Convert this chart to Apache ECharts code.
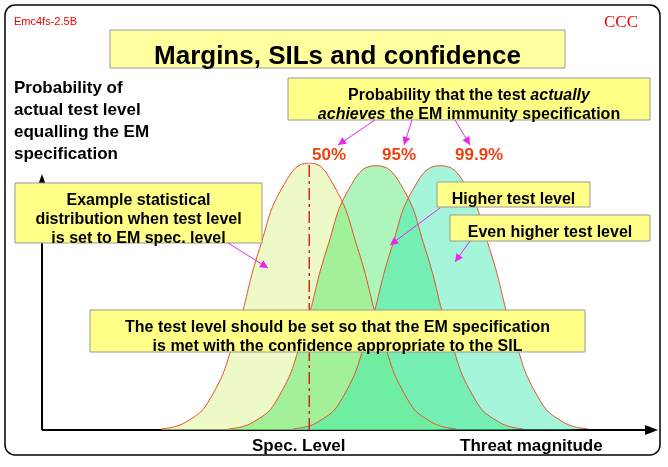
<html><head><script src="https://cdn.jsdelivr.net/npm/echarts@6/dist/echarts.min.js"></script></head>
<body style="margin:0;background:#fff"><div id="c" style="width:668px;height:467px"></div><script>
const xA=[19.5,23.5,27.5,31.5,35.5,39.5,43.6,47.5,51.5,55.5,59.5,63.5,67.5];
const yA=[0.5,3,12,35,68,92,100,92,68,35,12,3,0.5];
const xB=[30.5,34.5,38.5,42.5,46.5,50.5,54.5,58.5,62.5,66.5,70.5,74.5,78.5];
const yB=[0.5,3,12,35,68,92,99,92,68,35,12,3,0.5];
const xC=[41,45,49,53,57,61,65,69,73,77,81,85,89];
const yC=[0.5,3,12,35,68,92,99,92,68,35,12,3,0.5];
const pct=['50%','95%','99.9%'];
const pair=(xs,ys)=>xs.map((x,i)=>[x,ys[i]]);
const ch=echarts.init(document.getElementById('c'));
const F='Liberation Sans, Arial, sans-serif';
function box(x,y,w,h,lines,fs,fill){
 const ch2=[{type:'rect',z:20,shape:{x:x,y:y,width:w,height:h},style:{fill:fill||'#ffff88',stroke:'#999',lineWidth:1}}];
 lines.forEach((t,i)=>ch2.push({type:'text',z:21,style:{x:x+w/2,y:y+4+i*(fs+3),text:t,fill:'#000',font:'bold '+fs+'px '+F,align:'center',verticalAlign:'top',rich:{i:{fontStyle:'italic',fontWeight:'bold',fontSize:fs,fontFamily:F}}}}));
 return ch2;}
function arrow(x1,y1,x2,y2){const a=Math.atan2(y2-y1,x2-x1),L=8,W=4;
 return [{type:'line',z:22,shape:{x1,y1,x2,y2},style:{stroke:'#ee22ee',lineWidth:1}},
 {type:'polygon',z:22,shape:{points:[[x2,y2],[x2-L*Math.cos(a)+W*Math.sin(a),y2-L*Math.sin(a)-W*Math.cos(a)],[x2-L*Math.cos(a)-W*Math.sin(a),y2-L*Math.sin(a)+W*Math.cos(a)]]},style:{fill:'#ee22ee'}}];}
let g=[
 {type:'rect',shape:{x:5,y:5,width:655,height:450,r:10},style:{fill:'none',stroke:'#000',lineWidth:1.5}},
 {type:'text',style:{x:14,y:12,text:'Emc4fs-2.5B',fill:'#e00',font:'11px '+F}},
 {type:'text',style:{x:604,y:10,text:'CCC',fill:'#e00',font:'17px Liberation Serif, serif'}},
 {type:'text',style:{x:14,y:77,text:'Probability of\nactual test level\nequalling the EM\nspecification',fill:'#000',font:'bold 17px '+F,lineHeight:22}},
 {type:'line',shape:{x1:42,y1:430,x2:42,y2:182},style:{stroke:'#000',lineWidth:2}},
 {type:'polygon',shape:{points:[[42,174],[37,188],[47,188]]},style:{fill:'#000'}},
 {type:'line',shape:{x1:42,y1:430,x2:650,y2:430},style:{stroke:'#000',lineWidth:2}},
 {type:'polygon',shape:{points:[[658,430],[645,425],[645,435]]},style:{fill:'#000'}},
 {type:'text',style:{x:252,y:432,text:'Spec. Level',fill:'#000',font:'bold 17px '+F}},
 {type:'text',style:{x:460,y:432,text:'Threat magnitude',fill:'#000',font:'bold 17px '+F}},
];
g=g.concat(box(110,30,455,38,['Margins, SILs and confidence'],26,'#ffffa0'));
g=g.concat(box(288,78,362,42,['Probability that the test {i|actually}','{i|achieves} the EM immunity specification'],16));
g=g.concat(box(15,183,247,60,['Example statistical','distribution when test level','is set to EM spec. level'],16));
g=g.concat(box(437,182,153,25,['Higher test level'],16));
g=g.concat(box(450,215,200,26,['Even higher test level'],16));
g=g.concat(box(90,310,495,42,['The test level should be set so that the EM specification','is met with the confidence appropriate to the SIL'],16));
[[312,155,pct[0]],[382,155,pct[1]],[455,155,pct[2]]].forEach(p=>g.push({type:'text',z:21,style:{x:p[0],y:p[1],text:p[2],fill:'#f04010',font:'bold 17px '+F,verticalAlign:'middle'}}));
g=g.concat(arrow(375,120,338,145),arrow(412,120,404,145),arrow(455,120,470,145),arrow(228,243,268,268),arrow(440,208,390,245),arrow(470,241,455,262));
const ser=(d,fill)=>({type:'line',data:d,smooth:0.5,symbol:'none',z:2,lineStyle:{color:'#e85030',width:1},areaStyle:{color:fill}});
ch.setOption({animation:false,
 grid:{left:42,right:13,top:163,bottom:37},
 xAxis:{type:'value',min:0,max:100,show:false},
 yAxis:{type:'value',min:0,max:100,show:false},
 series:[ser(pair(xA,yA),'rgba(225,245,160,0.85)'),ser(pair(xB,yB),'rgba(60,230,90,0.6)'),ser(pair(xC,yC),'rgba(40,230,170,0.6)'),
  {type:'line',data:[[43.6,0],[43.6,110]],symbol:'none',z:3,lineStyle:{color:'#e02020',type:[12,4,3,4],width:1.5}}],
 graphic:g});
</script></body></html>
